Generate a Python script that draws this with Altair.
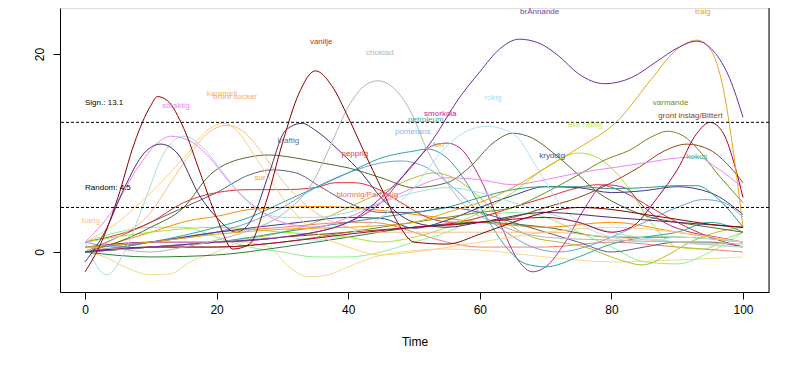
import altair as alt
import pandas as pd

# ---- curve data: (time, value) pairs ----
VANILJE = [(0,-2),(2.5,1),(5,5.5),(7.5,11),(10,14.8),(11,15.7),(12.5,15.3),(15,12.5),(17.5,8),(20,3.5),(22.5,0.3),(25,0.8),(27.5,5),(30,11),(32.5,16),(35,18.3),(37.5,16.8),(40,13.6),(42.5,10),(45,6.5),(47.5,3),(50,1),(55,0.8),(60,1.8),(65,3),(70,4),(75,4.5),(80,4.3),(85,3.8),(90,3.3),(95,2.8),(100,2.5)]
CHOKLAD = [(0,0.5),(5,0.3),(10,0),(15,0.5),(20,1.2),(25,2.2),(30,3.8),(35,7.5),(37,10.3),(40.3,15),(42.5,16.8),(44.5,17.3),(47,16.5),(49.4,14.3),(52,10.3),(55,7),(58,4.5),(62,3),(66,2),(70,1.5),(80,1.2),(90,1),(100,0.8)]
BRANNANDE = [(0,0),(10,0.5),(20,1),(30,1.5),(40,3),(45,5.5),(50.5,9.3),(53,11.5),(56.7,15.4),(60,18.2),(63,20.5),(66,21.5),(69,21.1),(72,19.8),(75,18),(79,17),(83,17.6),(87,19.3),(90,20.6),(93,21.3),(95.5,20.3),(98,17.5),(100,13.6)]
TRALG = [(0,0.5),(10,1),(20,1.8),(30,2.3),(40,2.5),(50,3),(55,4),(60,5),(65,6.5),(70,8.5),(75,10.5),(81,13.3),(86,17.4),(90,20.5),(93,21.4),(95,20.5),(97,16.5),(98.5,10.3),(100,2.5)]
CRIMSON = [(0,0),(10,0.5),(20,0.5),(30,1),(40,1.8),(50,2.5),(60,3),(70,3.5),(75,3),(80,2),(83,2.5),(87,5.5),(90,8.3),(93,12),(95,13.1),(97,12),(98.8,8.6),(100,5.5)]
PURPLE2 = [(0,-1),(3,2),(6,6.5),(9,10),(11.5,10.9),(14,10),(17.5,5.6),(20,3.5),(23,2),(25.5,3.5),(28,8),(30.5,12.3),(33,13),(35,12.3),(39,10),(42,8),(45,5.5),(50,3),(55,2.5),(60,3),(70,4),(80,3.5),(90,3),(100,2.5)]
SOTAKTIG = [(0,1),(4,4),(8,8.5),(11,11),(13,11.7),(16,11.2),(19,9.5),(22,7),(26,4.5),(30,3),(35,2.5),(40,3.5),(45,5),(50,6.5),(55,7.5),(60,7.3),(65,6.8),(70,7.3),(75,8),(80,8.5),(85,9),(90,9.5),(93,9.6),(96,8.5),(100,6.5)]
CYAN1 = [(0,1),(3.3,-2.3),(6,0),(9,5),(12,10),(15,11.7),(18,10.5),(21,8),(24,5.5),(27,4),(30,3.5),(35,3.5),(40,4),(45,5),(50,6),(55,6.5),(60,6),(65,5),(70,4),(80,2),(90,1),(100,0.5)]
ROKIG = [(0,0),(10,0.5),(20,1),(30,1.5),(35,1.2),(40,1.8),(45,3.5),(50,6.5),(54.4,10.3),(58,12.2),(61,12.7),(65,12),(68.7,8.5),(72,5),(75,3),(80,1.5),(85,1),(90,1.5),(100,1)]
BRUNT_SOCKER = [(0,0),(5,1.5),(10,4),(13,7),(16.4,10.3),(19,12.2),(21.6,12.8),(24,12.2),(26.6,10.3),(30,7.2),(35,4),(40,2.5),(45,2),(50,2),(60,2),(70,2),(80,1.5),(90,1),(100,0.5)]
KARAMELL = [(0,1),(5,3),(10,6),(15,9.5),(19,12.5),(21,13),(23,12.3),(26,9.5),(30,5.5),(35,2),(40,0.5),(45,-0.3),(50,0),(60,1),(70,2),(80,2.5),(90,2),(100,1)]
OLIVE_MID = [(0,0),(5,1),(10,2.5),(15,4.5),(19,7.8),(25,9.6),(28,9.8),(32,9.5),(36,9),(40,8.5),(45,7.5),(50,6.5),(55,7),(58.5,8.6),(62,11),(65,12),(68,11.5),(71,10.1),(74,8.4),(78,6),(82,4.5),(86,3.5),(90,3),(95,2.5),(100,2)]
VARMANDE = [(0,0),(10,0.5),(20,0.5),(30,1),(40,2),(50,3),(60,4),(65,4.5),(70,6),(75,7.8),(79,9.3),(82.8,10.3),(86,11.6),(88.5,12.2),(91,11.7),(93,10.5),(96,8),(100,5)]
GRONT = [(0,0),(10,0.5),(20,1),(30,1.5),(40,2),(50,2.5),(60,3),(65,3.5),(70,4.5),(75,5.5),(80,7),(84.3,8.6),(88,10.2),(91.5,10.9),(95,10.3),(98,8.6),(100,7)]
KOKOS = [(0,0),(10,0.5),(20,1),(30,2),(40,3),(50,4),(55,4.5),(60,5.5),(65,6.3),(70,6.6),(75,6.6),(80,6.4),(85,6.5),(90,6.7),(93,6.7),(96,5.5),(100,2.5)]
KRYDDIG = [(0,0.5),(10,1),(20,2),(32.7,3),(40,3.5),(45,3.4),(50,2.4),(55,3.2),(60,4.5),(65,5.7),(70,6.6),(75,6.5),(80,6),(85,6.2),(90,6.6),(95,6),(100,3.8)]
PETROLEUM = [(0,0),(10,1),(20,2.5),(25,3.5),(30,5),(35,6.5),(40,8),(45,9.5),(50,10.2),(52,10.4),(55,9.5),(58,7),(61,3.5),(64,0.5),(67,-1.2),(70,-1.5),(75,-0.5),(80,0.8),(85,1.5),(90,2),(95,3),(100,2)]
POMERANS = [(0,1),(5,0.5),(10,1),(20,2),(25,3),(30,4.5),(35,6.5),(40,8),(45,9),(48,9.2),(52,8.5),(56,6.5),(60,4),(64,2),(68,0.5),(72,0),(76,0.5),(80,1.5),(85,3),(90,4.5),(94,5.3),(97,5),(100,3.5)]
SMORKOLA = [(0,0.5),(10,1),(20,1),(30,1.5),(35,2),(40,3),(45,5),(50,9),(53,10.8),(55,11),(57,10.5),(60,7.5),(63,3),(66,-1),(68,-2),(70,-1.5),(73,1),(76,4.5),(79,6.8),(82,6.5),(85,4.5),(88,3),(92,2),(96,1.5),(100,1)]
TORR = [(0,0),(10,0.5),(20,1),(30,2),(35,3),(40,4.5),(45,6),(50,7.5),(53,8),(56,7.5),(60,5.5),(64,3),(68,1.5),(72,1),(76,0.5),(80,-0.5),(84.8,-1.3),(88,-0.5),(92,1),(96,2),(100,2.5)]
EKE = [(0,1),(10,2),(20,2.5),(30,2),(40,1.5),(45,1),(50,1.5),(55,2.5),(60,4),(65,6),(70,8.5),(75,10),(78,9.5),(82,7),(86,3),(90,0.5),(94,0.3),(98,1.5),(100,2)]
PEPPRIG = [(0,1),(10,3),(15,5),(20,6),(25,6.3),(30,6.3),(35,6.5),(38,7),(41,7),(44,6.5),(48,5),(52,3.5),(56,3),(60,3.5),(65,4.5),(70,5.5),(75,6.5),(78,6.8),(82,6),(86,4.5),(90,3),(95,1.5),(100,0.5)]
BLOMNIG = [(0,0),(10,1),(20,2),(30,2.5),(35,2.8),(40,3),(43,3),(46,2.8),(50,2),(55,1),(60,0.5),(70,0.5),(80,1),(90,0.5),(100,0)]
KRAFTIG = [(0,0),(5,1.5),(10,3),(15,4.5),(20,6),(25,7.8),(28.5,8.3),(32,8),(36,6.5),(40,5),(45,4),(50,4),(55,4.5),(60,4),(65,3),(70,2),(75,1),(80,0),(85,0.5),(90,1),(95,1),(100,0.5)]
SUR = [(0,0),(5,1),(10,2),(16,3.2),(20,3.6),(25,4.3),(30,4.5),(35,4.6),(40,4.5),(45,4.2),(50,3.8),(55,3.4),(60,3),(65,2.7),(70,2.5),(80,3),(90,2),(100,1)]
BARIG = [(0,0),(3,-0.5),(6,-1.5),(10,-2.3),(13,-2.2),(16,-1),(20,0),(24,1),(28,0.5),(31,-1.5),(34,-2.5),(37,-2.3),(40,-1.5),(44,-0.5),(48,0),(55,0.3),(60,0.2),(70,-0.5),(80,-1),(90,-0.8),(100,-0.5)]
LIGHTGREEN = [(0,1),(5,2),(10,2.5),(15,2.5),(20,1.5),(25,0.5),(30,0),(35,-0.5),(40,-0.5),(45,0),(50,1),(55,2),(60,3.5),(65,4),(70,3.5),(75,2),(80,0.5),(85,-1),(90,-1.2),(95,0),(100,2)]
DARKGREEN = [(0,0),(10,-0.5),(20,-0.3),(30,0.5),(40,1.5),(50,2.5),(60,3),(70,2.5),(80,1.5),(90,1.5),(100,1)]

CURVE_NAMES = ["barig", "lightgreen", "darkgreen", "sur", "blomnig", "kraftig", "pepprig", "eke", "torr",
               "smorkola", "pomerans", "petroleum", "kryddig", "kokos", "gront", "varmande", "olive_mid",
               "karamell", "brunt_socker", "rokig", "cyan1", "sotaktig", "purple2", "crimson", "tralg",
               "brannande", "choklad", "vanilje"]
CURVE_COLORS = ["#F2DC8C", "#90EE90", "#2E7D32", "#FF8C00", "#F08070", "#5F5F80", "#E03030", "#A6E22E", "#B5BD2B",
                "#C0238C", "#6CA6DC", "#2CA5A5", "#3B3B8E", "#2A9D8F", "#8B4513", "#6B8E23", "#556B2F",
                "#FFD27A", "#F5C08A", "#B3E3EE", "#A6DDDD", "#EE88EE", "#4B2C6B", "#B0003A", "#E6A817",
                "#7030A0", "#B4B4B4", "#8B0000"]
CURVE_POINTS = [BARIG, LIGHTGREEN, DARKGREEN, SUR, BLOMNIG, KRAFTIG, PEPPRIG, EKE, TORR,
                SMORKOLA, POMERANS, PETROLEUM, KRYDDIG, KOKOS, GRONT, VARMANDE, OLIVE_MID,
                KARAMELL, BRUNT_SOCKER, ROKIG, CYAN1, SOTAKTIG, PURPLE2, CRIMSON, TRALG,
                BRANNANDE, CHOKLAD, VANILJE]

# ---- labels ----
LABEL_TEXT = ["vanilje", "choklad", "brÅnnande", "tralg", "sötaktig", "karamell", "brunt socker", "kraftig",
              "pepprig", "blomnig/Parfymig", "smorkola", "petroleum", "pomerans", "torr", "rokig",
              "eke raktig", "kryddig", "varmande", "gront inslag/Bittert", "kokos", "sur", "barig"]
LABEL_T = [35.9, 44.8, 69.1, 93.9, 13.8, 20.8, 22.8, 30.9, 41.0, 42.9, 54.0, 51.8, 49.8, 53.8, 62.0,
           76.0, 71.0, 89.0, 92.0, 93.0, 26.6, 0.9]
LABEL_V = [21.2, 20.1, 24.2, 24.2, 14.7, 16.0, 15.7, 11.2, 9.9, 5.8, 13.9, 13.3, 12.1, 10.8, 15.6,
           12.8, 9.7, 15.1, 13.7, 9.6, 7.5, 3.1]
LABEL_COLORS = ["#D02828", "#B4B4B4", "#7040A0", "#E8A020", "#EE82EE", "#FFB84D", "#F5A878", "#6B6B8B",
                "#E03C3C", "#F07060", "#D0209A", "#3AA8A0", "#80B8F0", "#B8B840", "#A8DDE8",
                "#B8F060", "#505090", "#6B8E23", "#8B4513", "#40C080", "#FFA500", "#FFC090"]

THRESH_VALUES = [13.1, 4.5]
THRESH_TEXT = ["Sign.: 13.1", "Random: 4.5"]
THRESH_TEXT_V = [15.05, 6.46]

X_TICKS = [0, 20, 40, 60, 80, 100]
Y_TICKS = [0, 20]

rows = []
for name, pts in zip(CURVE_NAMES, CURVE_POINTS):
    for t, v in pts:
        rows.append({"curve": name, "t": t, "v": v})
curves = pd.DataFrame(rows)

labels = pd.DataFrame({"text": LABEL_TEXT, "t": LABEL_T, "v": LABEL_V, "color": LABEL_COLORS})
thr = pd.DataFrame({"y": THRESH_VALUES})
thr_text = pd.DataFrame({"text": THRESH_TEXT, "t": [0, 0], "v": THRESH_TEXT_V})

FONT = "Liberation Sans"
xscale = alt.Scale(domain=[-3.8, 103.95], nice=False, zero=False)
yscale = alt.Scale(domain=[-4.04, 24.65], nice=False, zero=False)

xaxis = alt.Axis(values=X_TICKS, title="Time", grid=False, tickSize=7, labelPadding=5,
                 labelFont=FONT, labelFontSize=12, titleFont=FONT, titleFontSize=12,
                 titleFontWeight="normal", titlePadding=21, domainColor="black", tickColor="black",
                 labelColor="black", titleColor="black", format="d")
yaxis = alt.Axis(values=Y_TICKS, title=None, grid=False, tickSize=7, labelPadding=7,
                 labelAngle=270, labelAlign="center", labelBaseline="bottom",
                 labelFont=FONT, labelFontSize=12, domainColor="black", tickColor="black",
                 labelColor="black", format="d")

lines = alt.Chart(curves).mark_line(strokeWidth=1, interpolate="monotone", clip=True).encode(
    x=alt.X("t:Q", scale=xscale, axis=xaxis),
    y=alt.Y("v:Q", scale=yscale, axis=yaxis),
    color=alt.Color("curve:N", scale=alt.Scale(domain=CURVE_NAMES, range=CURVE_COLORS), legend=None),
    detail="curve:N",
)

rules = alt.Chart(thr).mark_rule(color="black", strokeDash=[3, 2], strokeWidth=1).encode(
    y=alt.Y("y:Q", scale=yscale)
)

thr_labels = alt.Chart(thr_text).mark_text(font=FONT, fontSize=8, align="left", color="black").encode(
    x=alt.X("t:Q", scale=xscale), y=alt.Y("v:Q", scale=yscale), text="text:N"
)

curve_labels = alt.Chart(labels).mark_text(font=FONT, fontSize=8, align="center").encode(
    x=alt.X("t:Q", scale=xscale), y=alt.Y("v:Q", scale=yscale), text="text:N",
    color=alt.Color("color:N", scale=None),
)

right_border = alt.Chart(pd.DataFrame({"a": [0]})).mark_rule(color="black", strokeWidth=1).encode(
    x=alt.value(709), y=alt.value(0), y2=alt.value(284)
)

chart = alt.layer(lines, rules, thr_labels, curve_labels, right_border).properties(
    width=709, height=284,
    autosize=alt.AutoSizeParams(type="none"),
    padding={"left": 52, "top": 0, "right": 20, "bottom": 60},
).configure_view(stroke=None).configure(background="white")

chart.save("out.html", embed_options={"renderer": "svg", "actions": False})
